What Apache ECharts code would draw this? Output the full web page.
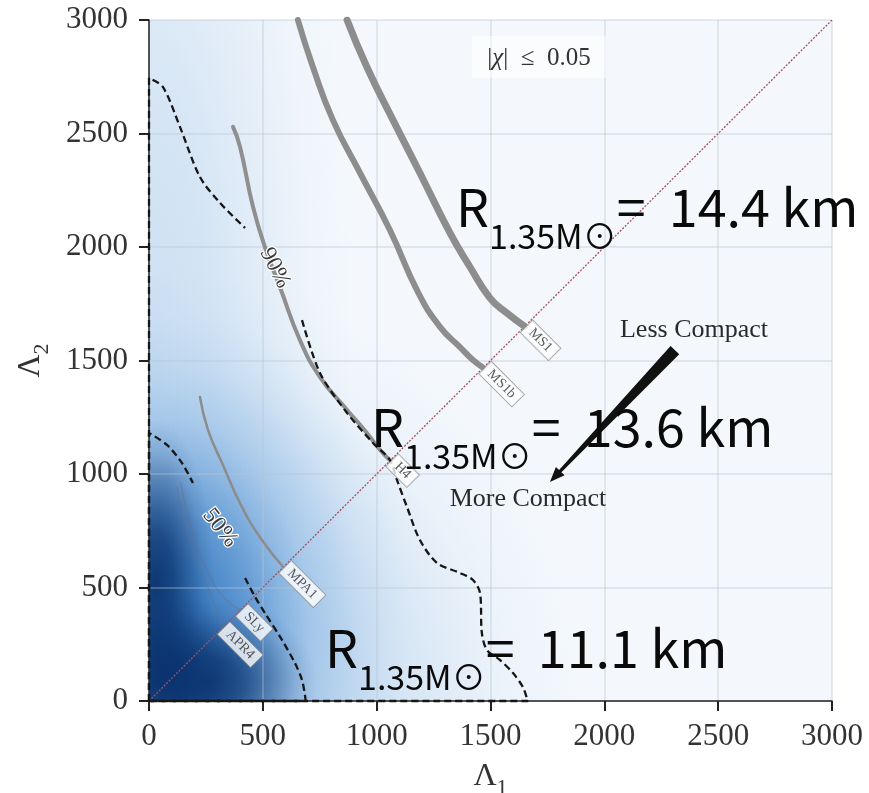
<!DOCTYPE html>
<html><head><meta charset="utf-8">
<script src="https://cdn.jsdelivr.net/npm/echarts@6/dist/echarts.min.js"></script>
<style>html,body{margin:0;padding:0;background:#fff}#c{width:869px;height:793px}</style>
</head><body><div id="c"></div>
<script>
// ---- axis ticks ----
const tickValues = [0, 500, 1000, 1500, 2000, 2500, 3000];

// ---- density shading (centre Λ1, centre Λ2, spread Λ1, spread Λ2, strength) ----
const densityBlobs = [
  [0, 1500, 900, 3400, 0.20],
  [0, 0, 1900, 1900, 0.38],
  [150, 400, 1000, 1300, 0.45],
  [100, 300, 600, 950, 0.62],
  [30, 520, 260, 720, 0.90],
  [260, 80, 480, 380, 0.88],
  [60, 120, 330, 380, 0.85]
];

// ---- EOS curves (Λ1, Λ2) ----
const eosMS1  = [[870,3000],[957,2793],[1072,2559],[1190,2326],[1322,2062],[1410,1912],[1498,1775],[1572,1709],[1650,1650]];
const eosMS1b = [[654,3000],[720,2793],[808,2559],[927,2326],[1058,2075],[1181,1802],[1278,1648],[1366,1559],[1423,1502],[1468,1468]];
const eosH4   = [[369,2529],[400,2441],[457,2176],[518,1974],[575,1824],[663,1590],[751,1427],[870,1282],[957,1181],[1015,1106],[1060,1060]];
const eosMPA1 = [[224,1339],[259,1194],[321,1048],[408,855],[496,709],[590,590]];
const eosSLy  = [[140,960],[165,840],[210,690],[270,545],[330,455],[400,400]];
const eosAPR4 = [[123,943],[145,828],[189,678],[246,533],[290,420],[320,320]];
const eosNames = ['MS1', 'MS1b', 'H4', 'MPA1', 'SLy', 'APR4'];

// ---- credible-region contours (dashed) ----
const c90upper = [[0,0],[0,2744],[61,2705],[136,2529],[224,2308],[312,2194],[422,2084]];
const c90lower = [[672,1678],[751,1445],[870,1269],[984,1137],[1058,1062],[1089,974],[1133,855],[1190,709],[1265,608],[1366,564],[1423,533],[1454,476],[1462,300],[1484,225],[1541,181],[1599,123],[1642,62],[1660,13],[1665,0],[0,0]];
const c50upper = [[0,0],[0,1181],[79,1128],[145,1048],[193,960]];
const c50lower = [[422,542],[466,458],[509,388],[584,269],[641,167],[672,93],[685,26],[688,0],[0,0]];

// ---- equal-mass line and compactness arrow ----
const diagonal = [[0,0],[3000,3000]];
const arrow = [[2310,1546,1761,965]];

const chart = echarts.init(document.getElementById('c'), null, {renderer:'canvas'});
const serif = 'Liberation Serif';
const jp = 'Noto Sans CJK JP';

function curve(data, w, color, z) {
  return {type:'line', data, showSymbol:false, smooth:0.5, z, silent:true,
    lineStyle:{color, width:w, cap:'round', join:'round'}};
}
function dashed(data) {
  return {type:'line', data, showSymbol:false, smooth:0.3, z:6, silent:true, clip:false,
    lineStyle:{color:'#161616', width:2.3, type:[7,4]}};
}
const eosData = [eosMS1, eosMS1b, eosH4, eosMPA1, eosSLy, eosAPR4];
const endPoints = eosData.map((d, i) => ({name: eosNames[i], value: d[d.length - 1]}));

function bigText(x, y, val) {
  return {type:'text', x, y, z:100, style:{
    text:'{r|R}{s|1.35M⊙}{r|=  ' + val + ' km}',
    align:'left', verticalAlign:'top',
    rich:{
      r:{fontFamily:jp, fontSize:52, verticalAlign:'top', fill:'#0a0a0a'},
      s:{fontFamily:jp, fontSize:34, verticalAlign:'top', padding:[38,0,0,0], fill:'#0a0a0a'}
    }}};
}
function axisName() {
  return {rich:{a:{fontFamily:serif, fontSize:32, verticalAlign:'top', color:'#333'},
                b:{fontFamily:serif, fontSize:22, verticalAlign:'top', padding:[16,0,0,0], color:'#333'}}};
}
function toneOf(a) {
  if (a >= 0.85) return [8, 48, 107];
  if (a >= 0.6) return [20, 95, 175];
  return [45, 125, 205];
}

const axisCommon = {
  type:'value', min:0, max:3000, interval:500, z:3,
  axisLine:{lineStyle:{color:'#222', width:1.5}},
  axisTick:{length:10, lineStyle:{color:'#222', width:2}},
  splitLine:{show:true, lineStyle:{color:'rgba(185,195,208,0.45)', width:1.5}}
};

chart.setOption({
  animation:false,
  grid:{left:149, top:20, right:37, bottom:92, show:true, backgroundColor:'#f4f8fc', borderWidth:0,
        containLabel:false, outerBoundsMode:'none'},
  xAxis:Object.assign({}, axisCommon, {
    name:'{a|Λ}{b|1}', nameLocation:'middle', nameGap:60, nameTextStyle:axisName(),
    axisLabel:{fontFamily:serif, fontSize:31, color:'#333', margin:20,
      formatter:v => tickValues.indexOf(v) >= 0 ? String(v) : ''}}),
  yAxis:Object.assign({}, axisCommon, {
    name:'{a|Λ}{b|2}', nameLocation:'middle', nameGap:96, nameRotate:90, nameTextStyle:axisName(),
    axisLabel:{fontFamily:serif, fontSize:31, color:'#333', margin:21,
      formatter:v => tickValues.indexOf(v) >= 0 ? String(v) : ''}}),
  series:[
    {type:'custom', coordinateSystem:'cartesian2d', z:1, silent:true, clip:true, data:densityBlobs,
     renderItem(params, api){
       const c = api.coord([api.value(0), api.value(1)]);
       const s = api.size([api.value(2), api.value(3)]);
       const a = api.value(4);
       const t = toneOf(a);
       const col = k => 'rgba(' + t.join(',') + ',' + (a * k).toFixed(3) + ')';
       return {type:'circle', x:c[0], y:c[1], scaleX:s[0]/100, scaleY:s[1]/100,
         shape:{cx:0, cy:0, r:100},
         style:{fill:{type:'radial', x:0.5, y:0.5, r:0.5, colorStops:[
           {offset:0, color:col(1)},{offset:0.3, color:col(0.8)},{offset:0.55, color:col(0.45)},
           {offset:0.8, color:col(0.13)},{offset:1, color:col(0)}]}}};
     }},
    {type:'line', data:diagonal, showSymbol:false, z:4, silent:true,
     lineStyle:{color:'#a3525f', width:1.3, type:[2,1.5]}},
    curve(eosMS1, 7, '#8d8d8d', 5),
    curve(eosMS1b, 6, '#8d8d8d', 5),
    curve(eosH4, 4, '#8f8f8f', 5),
    curve(eosMPA1, 2.5, '#8c8c8c', 5),
    curve(eosSLy, 1.3, 'rgba(110,110,130,0.45)', 5),
    curve(eosAPR4, 1.3, 'rgba(110,110,130,0.45)', 5),
    dashed(c90upper), dashed(c90lower), dashed(c50upper), dashed(c50lower),
    {type:'custom', coordinateSystem:'cartesian2d', z:8, silent:true, data:arrow,
     renderItem(params, api){
       const p0 = api.coord([api.value(0), api.value(1)]);
       const p1 = api.coord([api.value(2), api.value(3)]);
       const dx = p1[0]-p0[0], dy = p1[1]-p0[1];
       const L = Math.hypot(dx, dy), ux = dx/L, uy = dy/L, nx = -uy, ny = ux;
       const head = 15, hw = 6, w0 = 6, w1 = 1.6;
       const b = [p1[0]-ux*head, p1[1]-uy*head];
       const pts = [
         [p0[0]+nx*w0, p0[1]+ny*w0], [b[0]+nx*w1, b[1]+ny*w1], [b[0]+nx*hw, b[1]+ny*hw],
         p1, [b[0]-nx*hw, b[1]-ny*hw], [b[0]-nx*w1, b[1]-ny*w1], [p0[0]-nx*w0, p0[1]-ny*w0]];
       return {type:'polygon', shape:{points:pts}, style:{fill:'#111'}};
     }},
    {type:'scatter', data:endPoints, symbolSize:0, z:9, silent:true,
     label:{show:true, formatter:'{b}', position:'right', distance:2, rotate:-45,
       fontFamily:serif, fontSize:14, color:'#333', backgroundColor:'#ffffff',
       borderColor:'#8a8a8a', borderWidth:0.8, padding:[2,6,1,6]}}
  ],
  graphic:[
    {type:'rect', shape:{x:472, y:36, width:134, height:42}, style:{fill:'rgba(255,255,255,0.5)'}, z:50},
    {type:'text', x:539, y:58, z:51, style:{text:'{n||}{i|χ}{n||  ≤  0.05}', align:'center', verticalAlign:'middle',
      rich:{n:{fontFamily:serif, fontSize:25, fill:'#333'}, i:{fontFamily:serif, fontStyle:'italic', fontSize:25, fill:'#333'}}}},
    {type:'text', x:694, y:330, z:51, style:{text:'Less Compact', font:'26px "Liberation Serif"', fill:'#2a2a2a', align:'center', verticalAlign:'middle'}},
    {type:'text', x:528, y:499, z:51, style:{text:'More Compact', font:'26px "Liberation Serif"', fill:'#2a2a2a', align:'center', verticalAlign:'middle'}},
    {type:'text', x:275, y:268, rotation:-63*Math.PI/180, z:51, style:{text:'90%', font:'23px "Liberation Serif"', fill:'#3a3a3a', stroke:'#fff', lineWidth:2.5, align:'center', verticalAlign:'middle'}},
    {type:'text', x:220, y:528, rotation:-52*Math.PI/180, z:51, style:{text:'50%', font:'23px "Liberation Serif"', fill:'#3a3a3a', stroke:'#fff', lineWidth:2.5, align:'center', verticalAlign:'middle'}},
    bigText(456, 181, '14.4'),
    bigText(371, 401, '13.6'),
    bigText(325, 622, '11.1')
  ]
});
</script></body></html>
